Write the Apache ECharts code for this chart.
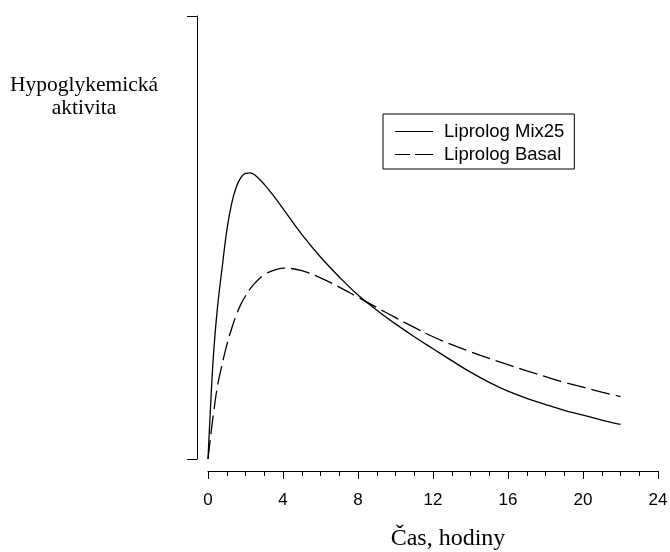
<!DOCTYPE html>
<html>
<head>
<meta charset="utf-8">
<script src="https://cdn.jsdelivr.net/npm/echarts@6/dist/echarts.min.js"></script>
<style>html,body{margin:0;padding:0;background:#fff}#c{width:670px;height:552px}</style>
</head>
<body>
<div id="c"></div>
<script>
const hours = [0, 0.15, 0.3, 0.5, 0.75, 1, 1.25, 1.5, 1.75, 2, 2.25, 2.5, 3, 3.5, 4, 5, 6, 7, 8, 9, 10, 11, 12, 13, 14, 15, 16, 17, 18, 19, 20, 21, 22];
const mix25 = [0, 13, 24, 34, 43, 51.5, 57.5, 61.3, 63.5, 64.5, 64.6, 64.1, 62.0, 59.4, 56.5, 50.7, 45.6, 41.1, 37.0, 33.6, 30.5, 27.6, 24.9, 22.2, 19.6, 17.3, 15.3, 13.7, 12.3, 11.0, 9.9, 8.8, 7.8];
const basal = [0, 5.5, 10.5, 16.3, 21.3, 25.7, 29.3, 32.4, 34.9, 36.8, 38.4, 39.7, 41.6, 42.6, 43.1, 42.5, 40.9, 38.8, 36.5, 34.2, 31.9, 29.7, 27.6, 25.8, 24.2, 22.7, 21.3, 19.9, 18.6, 17.3, 16.2, 15.1, 14.1];
const seriesNames = ['Liprolog Mix25', 'Liprolog Basal'];
const xTicks = [0, 4, 8, 12, 16, 20, 24];
const yLabel = 'Hypoglykemická\naktivita';
const xLabel = 'Čas, hodiny';

const pairs = (vals) => hours.map((h, i) => [h, vals[i]]);
const chart = echarts.init(document.getElementById('c'), null, {renderer: 'canvas'});
chart.setOption({
  animation: false,
  backgroundColor: '#fff',
  grid: {left: 208, right: 12, top: 16, bottom: 93, containLabel: false, outerBoundsMode: 'none'},
  xAxis: {
    type: 'value', min: xTicks[0], max: xTicks[xTicks.length - 1], interval: 4,
    offset: 12,
    axisLine: {show: true, onZero: false, lineStyle: {color: '#000', width: 1}},
    axisTick: {show: true, length: 8, lineStyle: {color: '#000', width: 1}},
    minorTick: {show: true, splitNumber: 4, length: 5, lineStyle: {color: '#000', width: 1}},
    axisLabel: {color: '#000', fontFamily: 'Liberation Sans, Arial, sans-serif', fontSize: 17, margin: 21,
      formatter: (v) => xTicks.includes(v) ? String(v) : ''},
    splitLine: {show: false}
  },
  yAxis: {
    type: 'value', min: 0, max: 100, interval: 100,
    offset: 11,
    axisLine: {show: true, onZero: false, lineStyle: {color: '#000', width: 1}},
    axisTick: {show: true, length: 10, lineStyle: {color: '#000', width: 1}},
    axisLabel: {show: false},
    splitLine: {show: false}
  },
  legend: {
    orient: 'vertical', left: 383, top: 114,
    data: [
      {name: seriesNames[0], icon: 'path://M0,0 H38 V1 H0 Z'},
      {name: seriesNames[1], icon: 'path://M0,0 H15 V1 H0 Z M20,0 H38 V1 H20 Z'}
    ],
    borderColor: '#000', borderWidth: 1, borderRadius: 0,
    padding: [8, 10, 5, 12],
    itemWidth: 38, itemHeight: 1.3, itemGap: 4,
    itemStyle: {color: '#000', borderWidth: 0},
    textStyle: {color: '#000', fontFamily: 'Liberation Sans, Arial, sans-serif', fontSize: 18.5, lineHeight: 18, padding: [0, 0, 0, 6]}
  },
  graphic: [
    {type: 'text', position: [84, 74], style: {text: yLabel, fill: '#000', font: '21.5px "Liberation Serif", "Times New Roman", serif', textAlign: 'center', textVerticalAlign: 'top', lineHeight: 23}},
    {type: 'text', position: [448, 527], style: {text: xLabel, fill: '#000', font: '24px "Liberation Serif", "Times New Roman", serif', textAlign: 'center', textVerticalAlign: 'top'}}
  ],
  series: [
    {name: seriesNames[0], type: 'line', data: pairs(mix25), symbol: 'none', smooth: 0.4,
      lineStyle: {color: '#000', width: 1.3, type: 'solid'}, itemStyle: {color: '#000'}},
    {name: seriesNames[1], type: 'line', data: pairs(basal), symbol: 'none', smooth: 0.4,
      lineStyle: {color: '#000', width: 1.3, type: [19, 6]}, itemStyle: {color: '#000'}}
  ]
});
</script>
</body>
</html>
